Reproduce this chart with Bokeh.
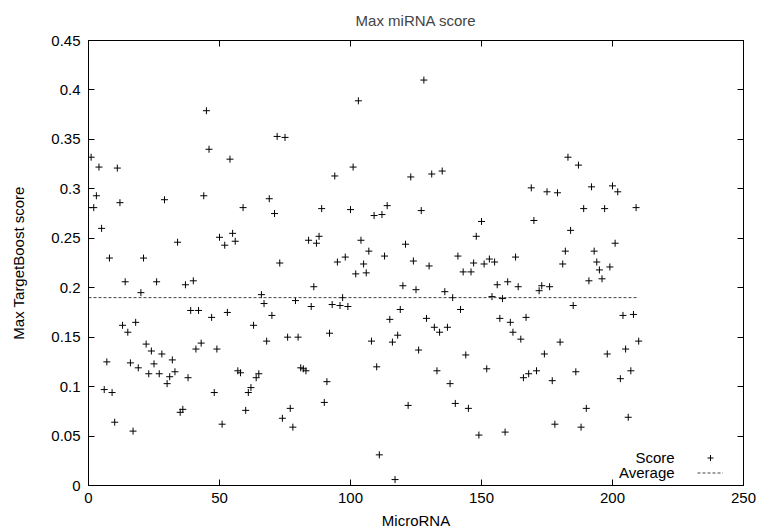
from bokeh.plotting import figure
from bokeh.models import (Range1d, LinearAxis, FixedTicker, CustomJSTickFormatter,
                          Label, Legend, LegendItem, ColumnDataSource)
from bokeh.core.properties import value
from bokeh.embed import file_html
from bokeh.resources import INLINE

# ---- data ----
scores = [
    0.281, 0.332, 0.281, 0.293, 0.322, 0.260, 0.097, 0.125, 0.230, 0.094,
    0.064, 0.321, 0.286, 0.162, 0.206, 0.155, 0.124, 0.055, 0.165, 0.119,
    0.195, 0.230, 0.143, 0.113, 0.136, 0.123, 0.206, 0.113, 0.133, 0.289,
    0.103, 0.110, 0.127, 0.115, 0.246, 0.074, 0.077, 0.203, 0.109, 0.177,
    0.207, 0.138, 0.177, 0.144, 0.293, 0.379, 0.340, 0.170, 0.094, 0.138,
    0.251, 0.062, 0.243, 0.175, 0.330, 0.255, 0.247, 0.116, 0.114, 0.281,
    0.076, 0.094, 0.099, 0.162, 0.109, 0.113, 0.193, 0.184, 0.146, 0.290,
    0.172, 0.275, 0.353, 0.225, 0.068, 0.352, 0.150, 0.078, 0.059, 0.187,
    0.150, 0.119, 0.118, 0.116, 0.248, 0.181, 0.201, 0.245, 0.252, 0.280,
    0.084, 0.105, 0.154, 0.183, 0.313, 0.226, 0.182, 0.190, 0.231, 0.181,
    0.279, 0.322, 0.214, 0.389, 0.248, 0.224, 0.215, 0.237, 0.146, 0.273,
    0.120, 0.031, 0.274, 0.232, 0.283, 0.168, 0.145, 0.006, 0.152, 0.178,
    0.202, 0.244, 0.081, 0.312, 0.227, 0.198, 0.137, 0.278, 0.410, 0.169,
    0.222, 0.315, 0.160, 0.116, 0.155, 0.318, 0.196, 0.160, 0.103, 0.190,
    0.083, 0.232, 0.178, 0.216, 0.132, 0.078, 0.216, 0.225, 0.252, 0.051,
    0.267, 0.224, 0.118, 0.229, 0.191, 0.226, 0.203, 0.169, 0.189, 0.054,
    0.206, 0.165, 0.155, 0.231, 0.201, 0.148, 0.109, 0.170, 0.113, 0.301,
    0.268, 0.116, 0.197, 0.202, 0.133, 0.297, 0.201, 0.106, 0.062, 0.296,
    0.145, 0.224, 0.237, 0.332, 0.258, 0.182, 0.115, 0.324, 0.059, 0.280,
    0.078, 0.207, 0.302, 0.237, 0.226, 0.218, 0.209, 0.280, 0.133, 0.221,
    0.303, 0.245, 0.297, 0.108, 0.172, 0.138, 0.069, 0.116, 0.173, 0.281,
    0.146,
]
microrna = list(range(len(scores)))
average_x = [0, 210]
average_y = [0.19, 0.19]
x_ticks = [0, 50, 100, 150, 200, 250]
y_ticks = [0, 0.05, 0.1, 0.15, 0.2, 0.25, 0.3, 0.35, 0.4, 0.45]

FONT = "Liberation Sans"
FS = "15px"

p = figure(width=760, height=531, output_backend="svg", toolbar_location=None,
           x_range=Range1d(0, 250), y_range=Range1d(0, 0.45),
           min_border_left=88, min_border_right=17, min_border_top=40,
           min_border_bottom=45, title="Max miRNA score")
p.title.align = "center"
p.title.vertical_align = "top"
p.title.text_font = FONT
p.title.text_font_size = FS
p.title.text_font_style = "normal"
p.title.standoff = 20
p.xgrid.visible = False
p.ygrid.visible = False
p.outline_line_color = "black"
p.outline_line_width = 1
p.background_fill_color = "white"
p.border_fill_color = "white"

yfmt = CustomJSTickFormatter(code="return tick.toFixed(2).replace(/0+$/,'').replace(/\\.$/,'');")
blank = CustomJSTickFormatter(code="return '';")

def style_axis(ax):
    ax.axis_line_color = "black"
    ax.major_tick_in = 6
    ax.major_tick_out = 0
    ax.minor_tick_line_color = None
    ax.major_tick_line_color = "black"
    ax.major_label_text_font = FONT
    ax.major_label_text_font_size = FS
    ax.major_label_text_color = "black"
    ax.axis_label_text_font = FONT
    ax.axis_label_text_font_size = FS
    ax.axis_label_text_font_style = "normal"
    ax.axis_label_text_color = "black"

xa = p.xaxis[0]
xa.ticker = FixedTicker(ticks=x_ticks)
xa.axis_label = "MicroRNA"
style_axis(xa)
xa.major_label_standoff = 7
xa.axis_label_standoff = 6

ya = p.yaxis[0]
ya.ticker = FixedTicker(ticks=y_ticks)
ya.formatter = yfmt
ya.axis_label = "Max TargetBoost score"
style_axis(ya)
ya.major_label_standoff = 8
ya.axis_label_standoff = 21

top = LinearAxis(ticker=FixedTicker(ticks=x_ticks), formatter=blank)
style_axis(top)
top.major_label_standoff = 0
p.add_layout(top, "above")
right = LinearAxis(ticker=FixedTicker(ticks=y_ticks), formatter=blank)
style_axis(right)
right.major_label_standoff = 0
p.add_layout(right, "right")

src = ColumnDataSource(data=dict(x=microrna, y=scores))
pts = p.scatter("x", "y", source=src, marker="cross", size=7, line_color="black",
                line_width=1)
avg = p.line(average_x, average_y, line_color="#444444", line_width=1, line_dash="3 2")

legend = Legend(items=[LegendItem(label=value(" "), renderers=[pts]),
                       LegendItem(label=value(" "), renderers=[avg])],
                location=(609, 5), orientation="vertical",
                glyph_width=26, glyph_height=15, label_width=0, label_standoff=0,
                label_text_font_size="9px", padding=0, margin=0, spacing=0,
                border_line_color=None, background_fill_alpha=0)
p.add_layout(legend, "center")

for txt, yv in (("Score", 0.0283), ("Average", 0.0131)):
    p.add_layout(Label(x=223.7, y=yv, text=txt, text_align="right",
                       text_baseline="middle", text_font=FONT,
                       text_font_size=FS, text_color="black"))

open("out.html", "w").write(file_html(p, INLINE))
